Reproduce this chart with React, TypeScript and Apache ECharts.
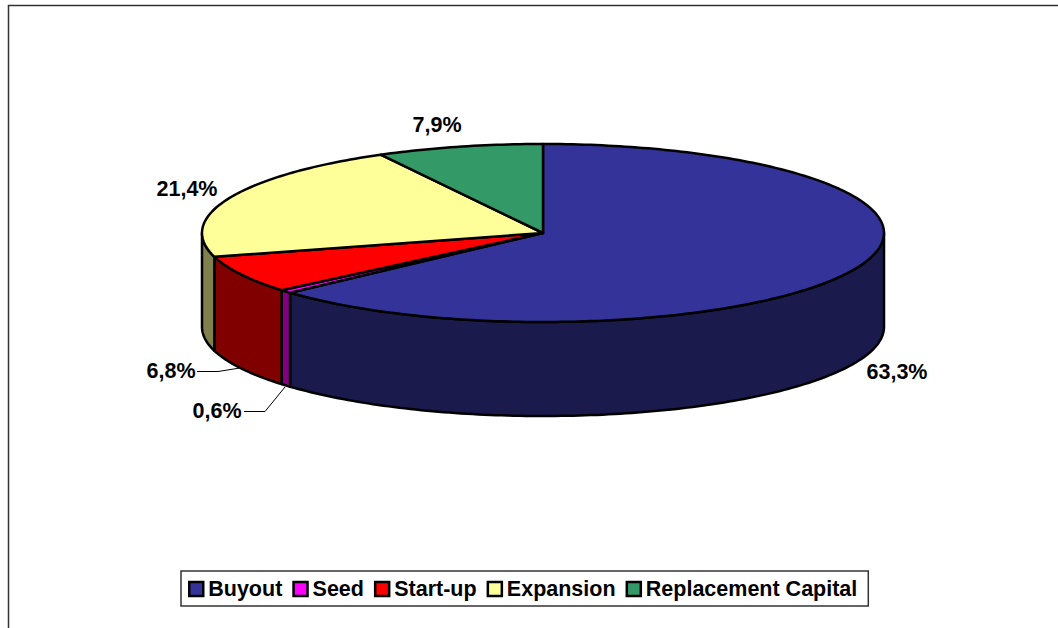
import React, { useEffect, useRef } from "react";
import * as echarts from "echarts";

const categories = ["Buyout", "Seed", "Start-up", "Expansion", "Replacement Capital"];
const shares = [63.3, 0.6, 6.8, 21.4, 7.9];

const topColors = ["#333399", "#ff00ff", "#ff0000", "#ffff99", "#339966"];
const wallColors = ["#1a1a4d", "#800080", "#800000", "#80804d", "#1a4d33"];

const labelCentres = [[897, 372], [217, 411], [171, 371], [187, 189], [437, 125]];
const leaders: number[][][] = [
  [],
  [[244, 411.5], [265, 411.5], [285, 387]],
  [[197, 371.5], [218, 371.5], [240, 368]],
  [],
  [],
];

const CX = 543;
const CY = 233;
const RX = 341;
const RY = 89;
const DEPTH = 94;
const FONT = "'Liberation Sans', Arial, sans-serif";

const pointAt = (deg: number, dy = 0) => {
  const r = (deg * Math.PI) / 180;
  return [CX + RX * Math.sin(r), CY - RY * Math.cos(r) + dy];
};

const arc = (a: number, b: number, dy = 0) => {
  const n = Math.max(1, Math.ceil(Math.abs(b - a)));
  const pts: number[][] = [];
  for (let i = 0; i <= n; i++) pts.push(pointAt(a + ((b - a) * i) / n, dy));
  return pts;
};

const slice = (idx: number) => (_params: any, api: any) => {
  const total = shares.reduce((s, v) => s + v, 0);
  const before = shares.slice(0, idx).reduce((s, v) => s + v, 0);
  const a = (before / total) * 360;
  const b = ((before + api.value(0)) / total) * 360;
  const stroke = { stroke: "#000", lineWidth: 2.5, lineJoin: "round" };
  const children: any[] = [];

  const wa = Math.max(a, 90);
  const wb = Math.min(b, 270);
  if (wb > wa) {
    children.push({
      type: "polygon",
      shape: { points: [...arc(wa, wb), ...arc(wb, wa, DEPTH)] },
      style: { fill: wallColors[idx], ...stroke },
    });
  }
  children.push({
    type: "polygon",
    shape: { points: [[CX, CY], ...arc(a, b)] },
    style: { fill: topColors[idx], ...stroke },
  });
  if (leaders[idx].length) {
    children.push({
      type: "polyline",
      shape: { points: leaders[idx] },
      style: { stroke: "#000", lineWidth: 1, fill: "none" },
    });
  }
  children.push({
    type: "text",
    x: labelCentres[idx][0],
    y: labelCentres[idx][1],
    style: {
      text: api.value(0).toFixed(1).replace(".", ",") + "%",
      fill: "#000",
      fontFamily: FONT,
      fontSize: 21.5,
      fontWeight: "bold",
      align: "center",
      verticalAlign: "middle",
    },
  });
  return { type: "group", children };
};

export default function App() {
  const ref = useRef<HTMLDivElement>(null);
  useEffect(() => {
    document.body.style.margin = "0";
    document.body.style.background = "#fff";
    const chart = echarts.init(ref.current!, null, { renderer: "svg" });
    chart.setOption({
      animation: false,
      graphic: [
        {
          type: "polyline",
          silent: true,
          shape: { points: [[8.5, 628], [8.5, 5.5], [1058, 5.5]] },
          style: { stroke: "#333", lineWidth: 1.5, fill: "none" },
        },
      ],
      legend: {
        left: 181,
        top: 571,
        orient: "horizontal",
        padding: [7, 11, 6, 7],
        itemGap: 10,
        itemWidth: 14,
        itemHeight: 14,
        icon: "rect",
        borderColor: "#333",
        borderWidth: 1.5,
        backgroundColor: "#fff",
        selectedMode: false,
        textStyle: { fontFamily: FONT, fontSize: 21.5, fontWeight: "bold", color: "#000" },
        data: categories.map((name, i) => ({
          name,
          itemStyle: { color: topColors[i], borderColor: "#000", borderWidth: 2.5 },
        })),
      },
      series: categories.map((name, i) => ({
        type: "custom",
        name,
        coordinateSystem: "none",
        silent: true,
        itemStyle: { color: topColors[i] },
        renderItem: slice(i),
        data: [[shares[i]]],
      })),
    });
    return () => chart.dispose();
  }, []);
  return <div ref={ref} style={{ position: "absolute", left: 0, top: 0, width: 1058, height: 628 }} />;
}
